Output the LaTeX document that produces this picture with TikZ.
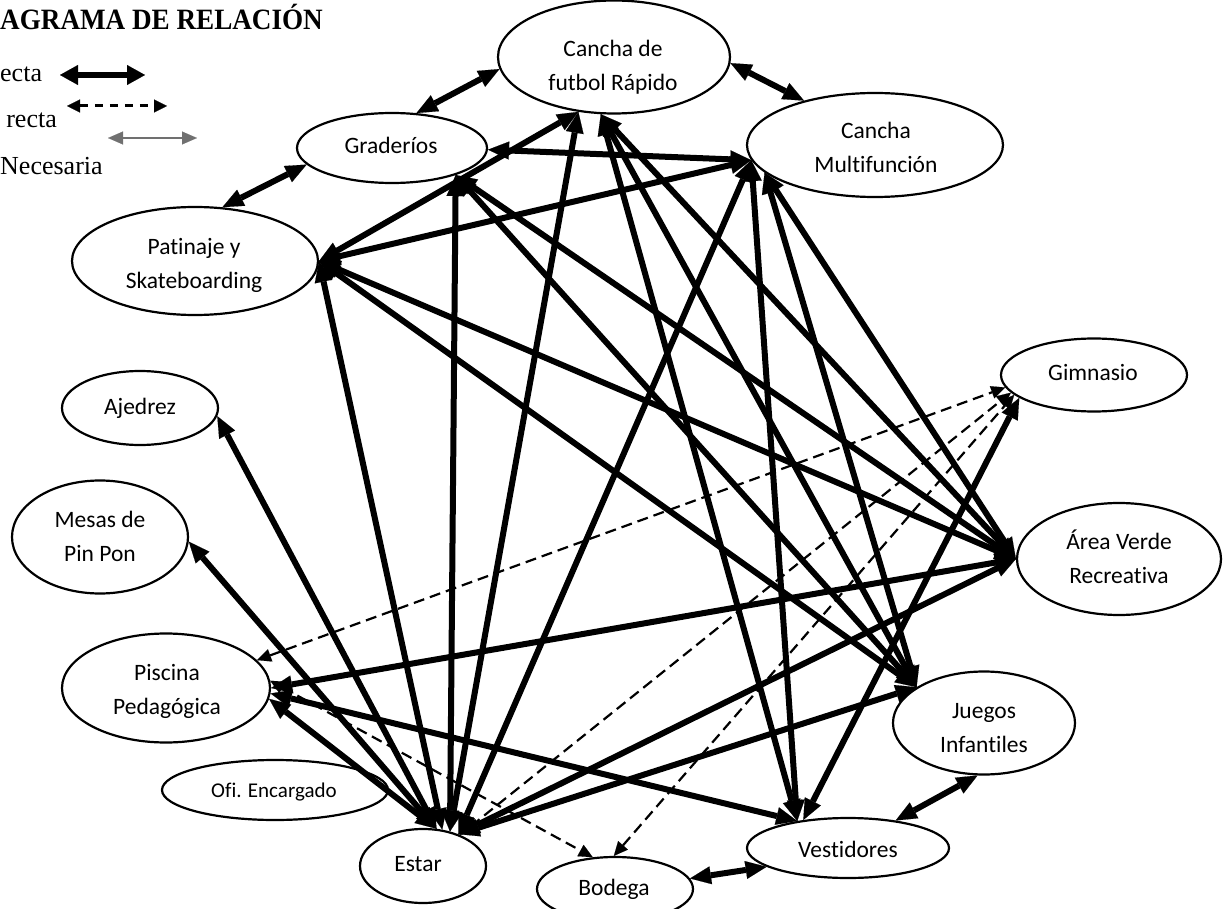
\documentclass[tikz,border=0pt]{standalone}
\usepackage{fontspec}
\setmainfont{Liberation Serif}
\newfontfamily\lblfont[Ligatures=NoCommon]{Carlito}
\newfontfamily\titlefont[FakeStretch=0.92]{Liberation Serif}
\usetikzlibrary{arrows.meta,shapes.geometric}
\definecolor{legray}{RGB}{112,112,112}
\tikzset{
  ell/.style={draw, ellipse, line width=2.2pt, fill=white, inner sep=0pt},
  lbl/.style={font=\lblfont\fontsize{23.5}{34}\selectfont, align=center, inner sep=0pt},
  lblsm/.style={font=\lblfont\fontsize{21}{25}\selectfont, inner sep=0pt},
  legtxt/.style={font=\fontsize{26}{30}\selectfont, inner sep=0pt},
  thk/.tip={Triangle[length=21pt,width=18pt,line width=0.1pt]},
  dtk/.tip={Triangle[length=14pt,width=13pt,line width=0.1pt]},
  rel/.style={line width=6pt, thk-thk},
  drel/.style={line width=2.2pt, dash pattern=on 11pt off 6pt, dtk-dtk},
  legthick/.style={line width=6.5pt, {Triangle[length=18pt,width=20pt,line width=0.1pt]}-{Triangle[length=18pt,width=20pt,line width=0.1pt]}},
  legdash/.style={line width=3pt, dash pattern=on 8pt off 7pt, {Triangle[length=13pt,width=13pt,line width=0.1pt]}-{Triangle[length=13pt,width=13pt,line width=0.1pt]}},
  leggray/.style={line width=2pt, draw=legray, {Triangle[length=15pt,width=13pt,line width=0.1pt]}-{Triangle[length=15pt,width=13pt,line width=0.1pt]}},
}
\begin{document}
\begin{tikzpicture}[x=1pt,y=-1pt]
\useasboundingbox (0,0) rectangle (1229,909);
% title and legend
\node[anchor=base west, inner sep=0pt, font=\titlefont\fontsize{29.5}{32}\selectfont\bfseries] (title) at (0,29.5) {AGRAMA DE RELACIÓN};
\node[legtxt, anchor=base west] (lt1) at (0,82) {ecta};
\node[legtxt, anchor=base east] (lt2) at (57,128) {recta};
\node[legtxt, anchor=base west] (lt3) at (0,175) {Necesaria};
\coordinate (la1) at (60,75);  \coordinate (lb1) at (145,75);
\coordinate (la2) at (67,106); \coordinate (lb2) at (167,106);
\coordinate (la3) at (108,138); \coordinate (lb3) at (197,138);
\draw[legthick] (la1) -- (lb1);
\draw[legdash] (la2) -- (lb2);
\draw[leggray] (la3) -- (lb3);
% ellipses
\node[ell, minimum width=232pt, minimum height=113pt] (fut) at (614,57) {};
\node[ell, minimum width=190pt, minimum height=70pt] (gra) at (392,148) {};
\node[ell, minimum width=256pt, minimum height=104pt] (mul) at (875,145) {};
\node[ell, minimum width=246pt, minimum height=108pt] (pat) at (195,261) {};
\node[ell, minimum width=156pt, minimum height=74pt] (aje) at (140,408) {};
\node[ell, minimum width=176pt, minimum height=113pt] (mes) at (100,537) {};
\node[ell, minimum width=208pt, minimum height=109pt] (pis) at (166,688) {};
\node[ell, minimum width=226pt, minimum height=60pt] (ofi) at (275,790) {};
\node[ell, minimum width=126pt, minimum height=74pt] (est) at (423,866) {};
\node[ell, minimum width=156pt, minimum height=64pt] (bod) at (615,889) {};
\node[ell, minimum width=202pt, minimum height=60pt] (ves) at (848,848) {};
\node[ell, minimum width=182pt, minimum height=103pt] (jue) at (984,723) {};
\node[ell, minimum width=186pt, minimum height=73pt] (gim) at (1094,375) {};
\node[ell, minimum width=204pt, minimum height=112pt] (are) at (1119,559) {};
% texts
\node[lbl] (futT) at (613,67) {Cancha de\\futbol Rápido};
\node[lbl] (mulT) at (876,147) {Cancha\\Multifunción};
\node[lbl] (patT) at (194,265) {Patinaje y\\Skateboarding};
\node[lbl] (mesT) at (100,536) {Mesas de\\Pin Pon};
\node[lbl] (pisT) at (167,691) {Piscina\\Pedagógica};
\node[lbl] (jueT) at (984,728) {Juegos\\Infantiles};
\node[lbl] (areT) at (1119,557) {Área Verde\\Recreativa};
\node[lbl, anchor=base] (graT) at (391,154) {Graderíos};
\node[lbl, anchor=base] (ajeT) at (140,414) {Ajedrez};
\node[lblsm, anchor=base] (ofiT) at (274,797) {Ofi. Encargado};
\node[lbl, anchor=base] (estT) at (418,871) {Estar};
\node[lbl, anchor=base] (bodT) at (614,895) {Bodega};
\node[lbl, anchor=base] (vesT) at (848,857) {Vestidores};
\node[lbl, anchor=base] (gimT) at (1093,381) {Gimnasio};
% dashed relations
\draw[drel] (pis.17) -- (gim.188);
\draw[drel] (pis.4) -- (bod.125);
\draw[drel] (est.40) -- (gim.192);
\draw[drel] (bod.92) -- (gim.194);
% direct relations
\draw[rel] (est.70) -- (aje.-6);
\draw[rel] (est.70) -- (mes.-3);
\draw[rel] (est.70) -- (pis.-6);
\draw[rel] (est.62) -- (pat.0);
\draw[rel] (est.52) -- (gra.-23);
\draw[rel] (est.52) -- (fut.-123);
\draw[rel] (est.42) -- (mul.187);
\draw[rel] (est.42) -- (are.180);
\draw[rel] (est.42) -- (jue.152);
\draw[rel] (pis.0) -- (are.180);
\draw[rel] (pis.-3) -- (ves.152);
\draw[rel] (pat.0) -- (fut.-123);
\draw[rel] (pat.0) -- (mul.187);
\draw[rel] (pat.0) -- (are.180);
\draw[rel] (pat.0) -- (jue.152);
\draw[rel] (gra.-1) -- (mul.187);
\draw[rel] (gra.-23) -- (jue.152);
\draw[rel] (gra.-23) -- (are.180);
\draw[rel] (fut.-103) -- (ves.152);
\draw[rel] (fut.-103) -- (jue.152);
\draw[rel] (fut.-103) -- (are.180);
\draw[rel] (mul.187) -- (ves.152);
\draw[rel] (mul.194) -- (jue.152);
\draw[rel] (mul.194) -- (are.180);
\draw[rel] (ves.148) -- (gim.197);
% short relations
\draw[rel] (gra.55) -- (fut.186);
\draw[rel] (fut.-3) -- (mul.148);
\draw[rel] (pat.63) -- (gra.191);
\draw[rel] (jue.-97) -- (ves.30);
\draw[rel] (bod.8) -- (ves.193);
\end{tikzpicture}
\end{document}
